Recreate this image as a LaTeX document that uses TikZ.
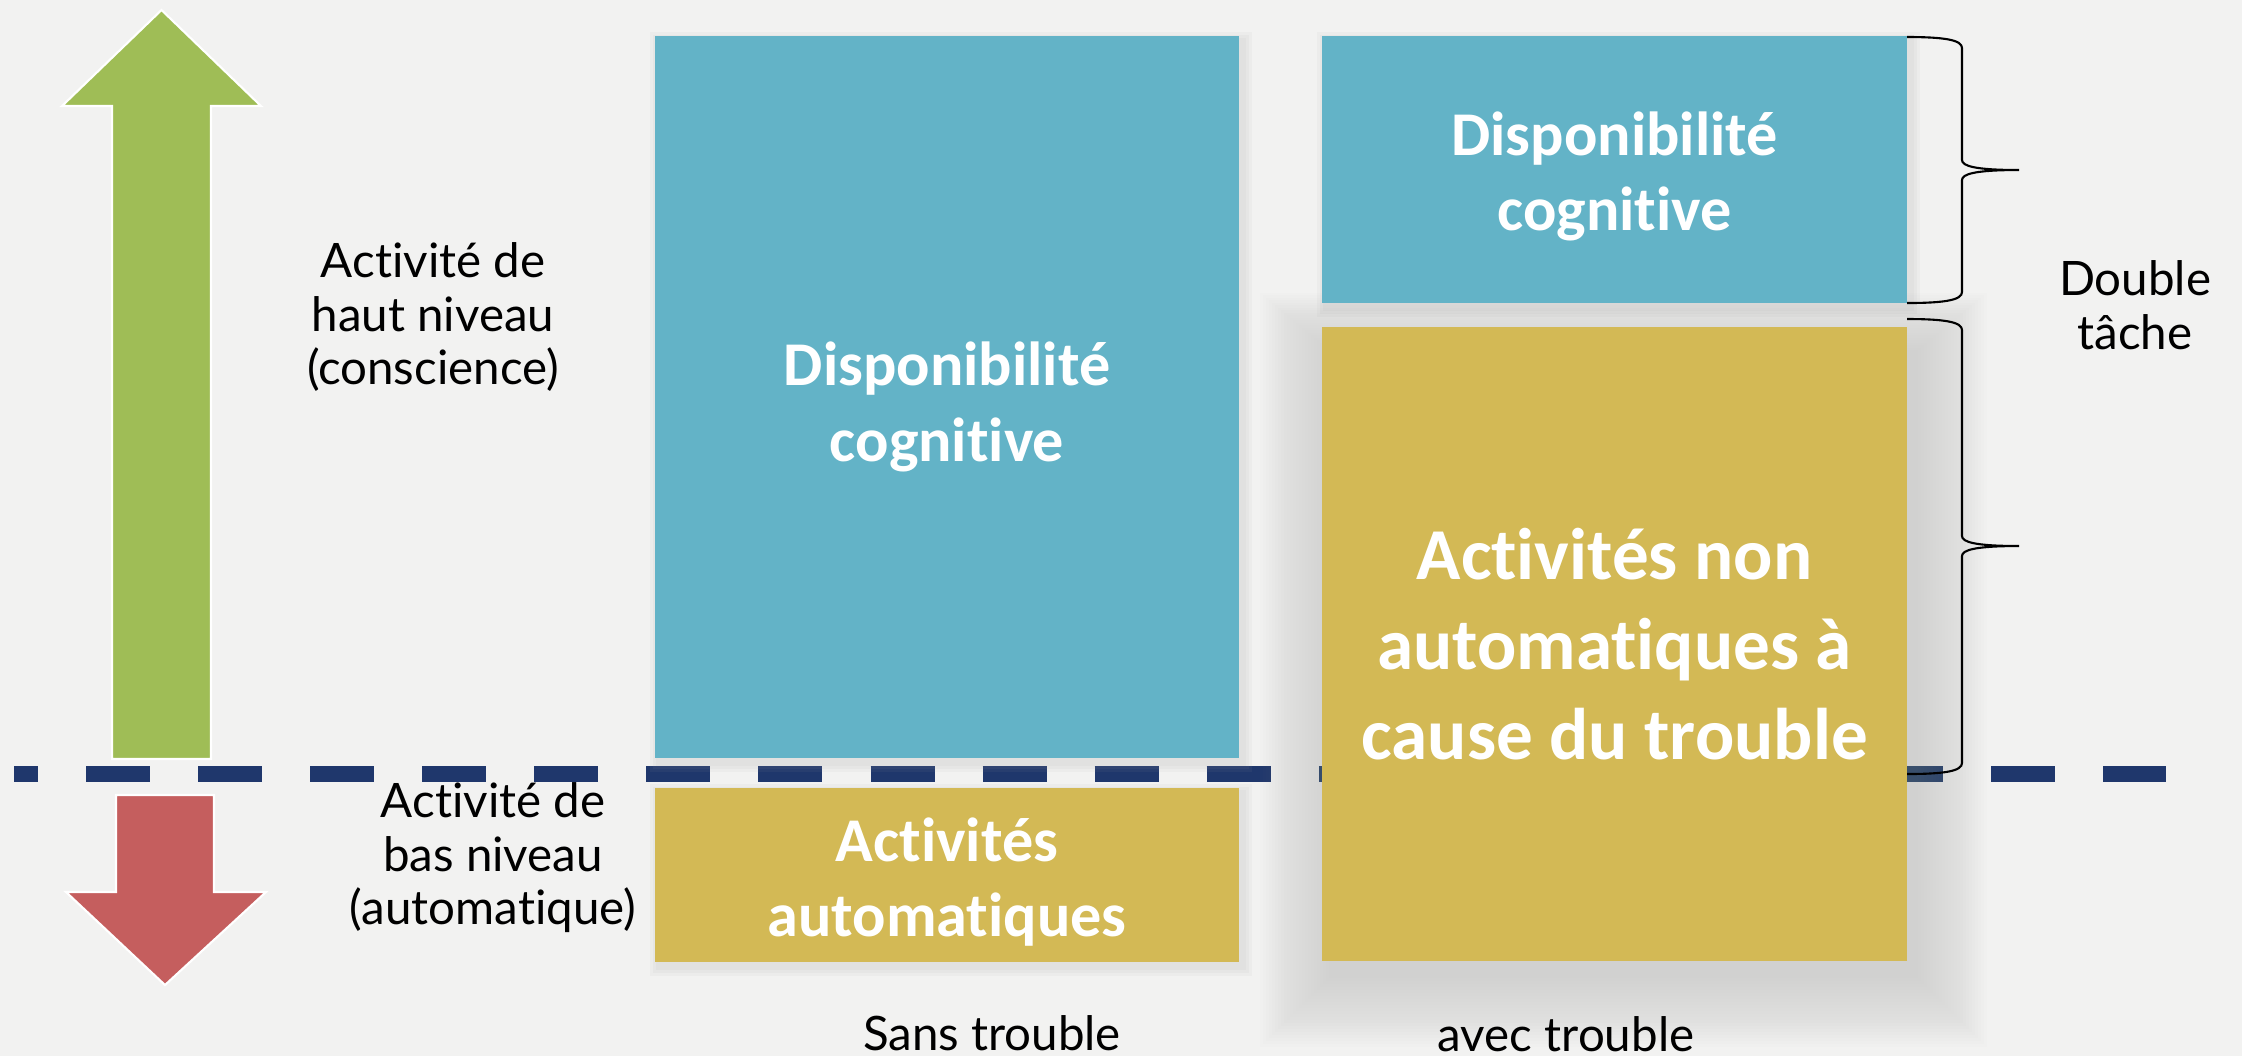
\documentclass[tikz,border=0pt]{standalone}
\usepackage{fontspec}
\setmainfont{Lato}[Ligatures={NoCommon,NoDiscretionary,NoRare}]
\newfontfamily\boxfont{Carlito}[Ligatures={NoCommon,NoDiscretionary,NoRare}]
\usetikzlibrary{calc}
\definecolor{bgc}{HTML}{F2F2F1}
\definecolor{boxblue}{HTML}{63B3C7}
\definecolor{boxyellow}{HTML}{D3B955}
\definecolor{arrgreen}{HTML}{9FBD56}
\definecolor{arrred}{HTML}{C55E5E}
\definecolor{navy}{HTML}{1F376C}
\pgfdeclarelayer{bglayer}
\pgfdeclarelayer{shadowlayer}
\pgfsetlayers{bglayer,shadowlayer,main}
\tikzset{
  cbox/.style={inner sep=0pt, outer sep=0pt},
  ctext/.style={inner sep=0pt, align=center, text=white,
    font=\boxfont\bfseries\fontsize{17.7pt}{21.4pt}\selectfont},
  bigtext/.style={font=\boxfont\bfseries\fontsize{20.8pt}{25.6pt}\selectfont},
  lbl/.style={inner sep=0pt, align=center, text=black,
    font=\fontsize{13.5pt}{15.2pt}\selectfont},
  arrowshape/.style={draw=white, line width=0.6pt},
  sepline/.style={draw=navy, line width=0.16cm, dash pattern=on 0.64cm off 0.48cm, dash phase=0.40cm},
  bracestyle/.style={draw=black, line width=0.6pt},
  shadowlayerstyle/.style={fill=black!37}
}
\begin{document}
\begin{tikzpicture}[x=0.01cm,y=-0.01cm]
\useasboundingbox (0,0) rectangle (2242,1056);
% boxes
\node[cbox, fill=boxblue, minimum width=5.84cm, minimum height=7.22cm] (bL) at (947,397) {};
\node[cbox, fill=boxyellow, minimum width=5.84cm, minimum height=1.74cm] (yL) at (947,875) {};
\node[cbox, fill=boxblue, minimum width=5.85cm, minimum height=2.67cm] (bR) at (1614.5,169.5) {};
\node[cbox, fill=boxyellow, minimum width=5.85cm, minimum height=6.34cm] (yR) at (1614.5,644) {};
% box texts
\node[ctext] (bLtext) at ($(bL.center)+(0,10)$) {Disponibilité\\cognitive};
\node[ctext] (yLtext) at ($(yL.center)+(0,7)$) {Activités\\automatiques};
\node[ctext] (bRtext) at ($(bR.center)+(0,7)$) {Disponibilité\\cognitive};
\node[ctext, bigtext] (yRtext) at ($(yR.center)+(0,0)$) {Activités non\\automatiques à\\cause du trouble};

\begin{pgfonlayer}{bglayer}
  \fill[bgc] (0,0) rectangle (2242,1056);
  % green arrow (up)
  \filldraw[fill=arrgreen, arrowshape] (161.5,10) -- (261,106) -- (211,106) -- (211,759) -- (112,759) -- (112,106) -- (62,106) -- cycle;
  % red arrow (down)
  \filldraw[fill=arrred, arrowshape] (116,795) -- (214,795) -- (214,892) -- (266,892) -- (165,985) -- (66,892) -- (116,892) -- cycle;
  % separator
  \coordinate (sepL) at (14,774);
  \coordinate (sepR) at (2166,774);
  \draw[sepline] (sepL) -- (sepR);
\end{pgfonlayer}

\begin{pgfonlayer}{shadowlayer}
  \foreach \i in {1,...,24}{
    \fill[shadowlayerstyle, opacity=0.017] ($(yR.north west)+(10-3*\i,26-2.5*\i)$) rectangle ($(yR.south east)+(8+3*\i,14+3*\i)$);
  }
  \foreach \n in {bL,yL,bR}{
    \foreach \i in {1,...,3}{
      \fill[shadowlayerstyle, opacity=0.07] ($(\n.north west)+(4-3*\i,5-3*\i)$) rectangle ($(\n.south east)+(4+3*\i,5+3*\i)$);
    }
  }
\end{pgfonlayer}

% braces
\draw[bracestyle] (1907,37) .. controls (1945,37) and (1962,40) .. (1962,48) -- (1962,160)
  .. controls (1962,166) and (1975,170) .. (2019,170)
  .. controls (1975,170) and (1962,174) .. (1962,180) -- (1962,292)
  .. controls (1962,300) and (1945,303) .. (1907,303);
\draw[bracestyle] (1907,319) .. controls (1945,319) and (1962,322) .. (1962,330) -- (1962,536)
  .. controls (1962,542) and (1975,546) .. (2019,546)
  .. controls (1975,546) and (1962,550) .. (1962,556) -- (1962,763)
  .. controls (1962,771) and (1945,774) .. (1907,774);

% labels
\node[lbl] (hautlbl) at (433,317) {Activité de\\haut niveau\\(conscience)};
\node[lbl] (baslbl) at (493,858) {Activité de\\bas niveau\\(automatique)};
\node[lbl] (dtlbl) at (2135,305) {Double\\tâche};
\node[lbl, anchor=base] (sanslbl) at (992,1050) {Sans trouble};
\node[lbl, anchor=base] (aveclbl) at (1566,1051) {avec trouble};
\end{tikzpicture}
\end{document}
